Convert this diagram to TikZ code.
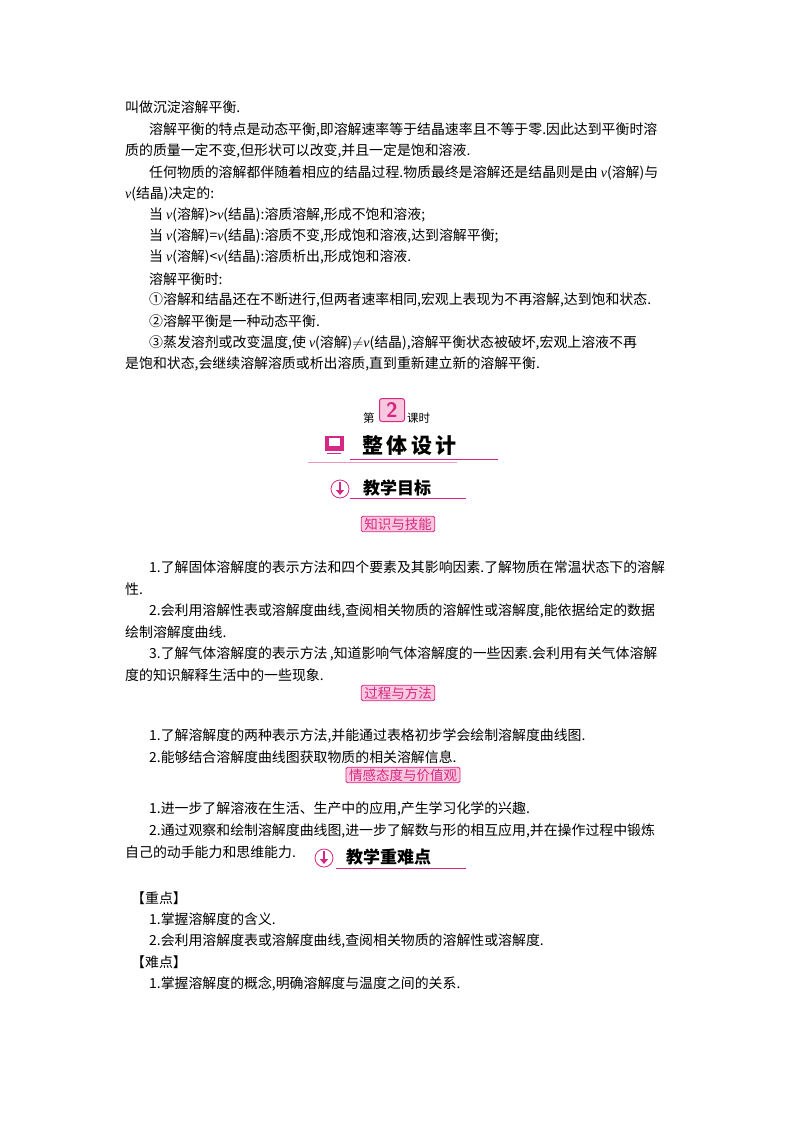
\documentclass[tikz,border=0pt]{standalone}
\usetikzlibrary{arrows.meta}
\usepackage{fontspec}
\setmainfont{Liberation Serif}
\newfontfamily\cjk{Noto Sans CJK SC}[Scale=1]
\newfontfamily\lat{Liberation Serif}
\definecolor{pk}{RGB}{214,40,130}
\definecolor{pkl}{RGB}{240,150,195}
\definecolor{pkf}{RGB}{248,200,222}
\begin{document}
\begin{tikzpicture}[x=1pt,y=-1pt,
  tx/.style={anchor=west,inner sep=0pt,font=\fontsize{13.9}{16}\cjk},
  hd/.style={anchor=west,inner sep=0pt,font=\fontsize{17}{20}\cjk\bfseries},
  tag/.style={draw=pk,fill=pkf,rounded corners=1.5pt,line width=0.8pt,inner xsep=3pt,inner ysep=1.5pt,font=\fontsize{13.5}{15}\cjk\color{pk}}]
\useasboundingbox (0,0) rectangle (800,1132);
\newcommand{\vv}{{\lat\itshape v}}
\node[tx] (l1) at (125,107) {叫做沉淀溶解平衡.};
\node[tx] (l2) at (149,130) {溶解平衡的特点是动态平衡,即溶解速率等于结晶速率且不等于零.因此达到平衡时溶};
\node[tx] (l3) at (125,151) {质的质量一定不变,但形状可以改变,并且一定是饱和溶液.};
\node[tx] (l4) at (149,173) {任何物质的溶解都伴随着相应的结晶过程.物质最终是溶解还是结晶则是由 \vv(溶解)与};
\node[tx] (l5) at (125,194) {\vv(结晶)决定的:};
\node[tx] (l6) at (149,215) {当 \vv(溶解)>\vv(结晶):溶质溶解,形成不饱和溶液;};
\node[tx] (l7) at (149,236) {当 \vv(溶解)=\vv(结晶):溶质不变,形成饱和溶液,达到溶解平衡;};
\node[tx] (l8) at (149,257) {当 \vv(溶解)<\vv(结晶):溶质析出,形成饱和溶液.};
\node[tx] (l9) at (149,279) {溶解平衡时:};
\node[tx] (l10) at (149,300) {①溶解和结晶还在不断进行,但两者速率相同,宏观上表现为不再溶解,达到饱和状态.};
\node[tx] (l11) at (149,321) {②溶解平衡是一种动态平衡.};
\node[tx] (l12) at (149,343) {③蒸发溶剂或改变温度,使 \vv(溶解)$\neq$\vv(结晶),溶解平衡状态被破坏,宏观上溶液不再};
\node[tx] (l13) at (125,364) {是饱和状态,会继续溶解溶质或析出溶质,直到重新建立新的溶解平衡.};
% lesson header
\node[tx,font=\fontsize{11.5}{13}\cjk] (di) at (363,418) {第};
\node[draw=pk,fill=pkf,rounded corners=2.5pt,line width=1pt,minimum width=25pt,minimum height=23pt,inner sep=0pt,font=\fontsize{21}{22}\sffamily\bfseries\color{pk}] (two) at (392,410) {2};
\node[tx,font=\fontsize{11.5}{13}\cjk] (ks) at (407,418) {课时};
% whole design
\node[draw=pk,fill=pk,minimum width=18pt,minimum height=14pt,inner sep=0pt] (ic1) at (334,443) {};
\node[fill=white,minimum width=11pt,minimum height=8pt,inner sep=0pt] (ic1s) at (334,442) {};
\draw[pk,line width=1.8pt] (327,453.5) -- (341,453.5);
\node[hd,font=\fontsize{21}{24}\cjk\bfseries] (zt) at (362,446) {整\,体\,设\,计};
\coordinate (u1a) at (350,459); \coordinate (u1b) at (498,459);
\draw[pk,line width=0.7pt] (u1a) -- (u1b);
\coordinate (u2a) at (308,462); \coordinate (u2b) at (457,462);
\draw[pkl,line width=1pt] (u2a) -- (u2b);
% teaching goals
\node[circle,draw=pk,fill=white,line width=0.8pt,minimum size=18pt,inner sep=0pt] (ic2) at (340,489) {};
\draw[pk,line width=2.2pt,-{Triangle[length=5pt,width=8pt]}] (340,482) -- (340,495);
\node[hd] (mb) at (363,488) {教学目标};
\coordinate (u3a) at (350,498); \coordinate (u3b) at (466,498);
\draw[pk,line width=0.7pt] (u3a) -- (u3b);
\node[tag] (t1) at (398,524) {知识与技能};
\node[tx] (a1) at (149,567) {1.了解固体溶解度的表示方法和四个要素及其影响因素.了解物质在常温状态下的溶解};
\node[tx] (a2) at (125,589) {性.};
\node[tx] (a3) at (149,611) {2.会利用溶解性表或溶解度曲线,查阅相关物质的溶解性或溶解度,能依据给定的数据};
\node[tx] (a4) at (125,632) {绘制溶解度曲线.};
\node[tx] (a5) at (149,654) {3.了解气体溶解度的表示方法\,,知道影响气体溶解度的一些因素.会利用有关气体溶解};
\node[tx] (a6) at (125,675) {度的知识解释生活中的一些现象.};
\node[tag] (t2) at (398,693) {过程与方法};
\node[tx] (b1) at (149,736) {1.了解溶解度的两种表示方法,并能通过表格初步学会绘制溶解度曲线图.};
\node[tx] (b2) at (149,757) {2.能够结合溶解度曲线图获取物质的相关溶解信息.};
\node[tag] (t3) at (403,775) {情感态度与价值观};
\node[tx] (c1) at (149,809) {1.进一步了解溶液在生活、生产中的应用,产生学习化学的兴趣.};
\node[tx] (c2) at (149,831) {2.通过观察和绘制溶解度曲线图,进一步了解数与形的相互应用,并在操作过程中锻炼};
\node[tx] (c3) at (125,852) {自己的动手能力和思维能力.};
% key points
\node[circle,draw=pk,fill=white,line width=0.8pt,minimum size=18pt,inner sep=0pt] (ic3) at (324,858) {};
\draw[pk,line width=2.2pt,-{Triangle[length=5pt,width=8pt]}] (324,851) -- (324,864);
\node[hd] (zd) at (346,857) {教学重难点};
\coordinate (u4a) at (336,868); \coordinate (u4b) at (466,868);
\draw[pk,line width=0.7pt] (u4a) -- (u4b);
\node[tx] (d1) at (131,898) {【重点】};
\node[tx] (d2) at (149,919) {1.掌握溶解度的含义.};
\node[tx] (d3) at (149,941) {2.会利用溶解度表或溶解度曲线,查阅相关物质的溶解性或溶解度.};
\node[tx] (d4) at (131,962) {【难点】};
\node[tx] (d5) at (149,984) {1.掌握溶解度的概念,明确溶解度与温度之间的关系.};
\end{tikzpicture}
\end{document}
